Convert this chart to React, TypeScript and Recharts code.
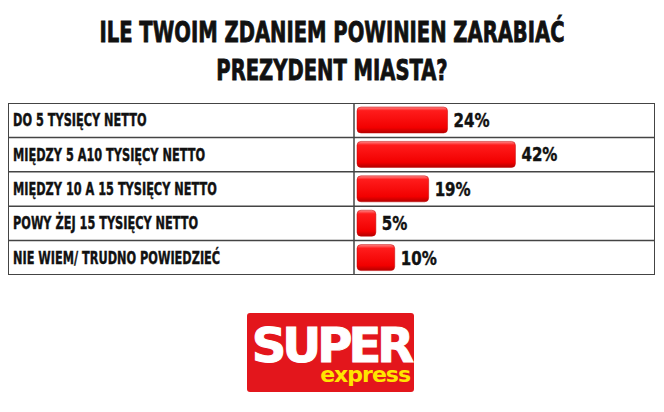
import { BarChart, Bar, XAxis, YAxis, LabelList } from 'recharts';

const categories = [
  'DO 5 TYSIĘCY NETTO',
  'MIĘDZY 5 A10 TYSIĘCY NETTO',
  'MIĘDZY 10 A 15 TYSIĘCY NETTO',
  'POWY ŻEJ 15 TYSIĘCY NETTO',
  'NIE WIEM/ TRUDNO POWIEDZIEĆ',
];
const shares = [24, 42, 19, 5, 10];
const titleLines = ['ILE TWOIM ZDANIEM POWINIEN ZARABIAĆ', 'PREZYDENT MIASTA?'];

const data = categories.map((name, i) => ({ name, value: shares[i] }));

const font = "'DejaVu Sans Condensed', 'DejaVu Sans', sans-serif";
const lineColor = '#444';
const chartW = 647;
const chartH = 172;
const rowH = chartH / categories.length;

function RowTick(props: any) {
  const { y, payload } = props;
  return (
    <g>
      <line x1={0} x2={chartW} y1={y + rowH / 2} y2={y + rowH / 2} stroke={lineColor} strokeWidth={1.5} />
      <text
        transform={`translate(5, ${y + 6}) scale(0.74, 1)`}
        fontFamily={font}
        fontWeight="bold"
        fontSize={17}
        fill="#111"
        stroke="#111"
        strokeWidth={0.4}
      >
        {payload.value}
      </text>
    </g>
  );
}

function PctLabel(props: any) {
  const { x, y, width, height, value } = props;
  return (
    <text
      transform={`translate(${x + width + 6}, ${y + height / 2 + 7}) scale(0.88, 1)`}
      fontFamily={font}
      fontWeight="bold"
      fontSize={19}
      fill="#111"
      stroke="#111"
      strokeWidth={0.4}
    >
      {`${value}%`}
    </text>
  );
}

export default function App() {
  return (
    <div style={{ position: 'absolute', left: 0, top: 0, width: 664, height: 412, background: '#fff' }}>
      <svg width={664} height={100} style={{ position: 'absolute', left: 0, top: 0 }}>
        {titleLines.map((t, i) => (
          <text
            key={t}
            transform={`translate(332, ${42 + i * 38}) scale(0.75, 1)`}
            textAnchor="middle"
            fontFamily={font}
            fontWeight="bold"
            fontSize={29}
            fill="#111"
            stroke="#111"
            strokeWidth={0.8}
          >
            {t}
          </text>
        ))}
      </svg>

      <div style={{ position: 'absolute', left: 8, top: 103 }}>
        <BarChart width={chartW} height={chartH} data={data} layout="vertical" margin={{ top: 0, right: 0, bottom: 0, left: 0 }}>
          <defs>
            <linearGradient id="barRed" x1="0" y1="0" x2="0" y2="1">
              <stop offset="0%" stopColor="#ff8a8a" />
              <stop offset="14%" stopColor="#ff1c1c" />
              <stop offset="80%" stopColor="#f20000" />
              <stop offset="100%" stopColor="#b50000" />
            </linearGradient>
          </defs>
          <XAxis type="number" domain={[0, 79]} hide padding={{ left: 3, right: 0 }} />
          <YAxis
            type="category"
            dataKey="name"
            width={346}
            tick={<RowTick />}
            tickLine={false}
            axisLine={{ stroke: lineColor, strokeWidth: 1.5 }}
          />
          <Bar dataKey="value" barSize={26} radius={4} fill="url(#barRed)" stroke="#c00000" strokeWidth={0.5} isAnimationActive={false}>
            <LabelList dataKey="value" content={<PctLabel />} />
          </Bar>
        </BarChart>
        <div
          style={{
            position: 'absolute',
            left: 0,
            top: 0,
            width: chartW,
            height: chartH,
            boxSizing: 'border-box',
            border: `1.5px solid ${lineColor}`,
            pointerEvents: 'none',
          }}
        />
      </div>

      <svg width={664} height={412} style={{ position: 'absolute', left: 0, top: 0, pointerEvents: 'none' }}>
        <rect x={247} y={313} width={167} height={79} rx={3} fill="#e3161c" />
        <text x={331} y={362} textAnchor="middle" fontFamily="'DejaVu Sans', sans-serif" fontWeight="bold" fontSize={48} letterSpacing={-4} fill="#fff" stroke="#fff" strokeWidth={1}>
          SUPER
        </text>
        <text x={410} y={382} textAnchor="end" fontFamily="'DejaVu Sans', sans-serif" fontWeight="bold" fontSize={22} letterSpacing={-1} fill="#ffe500">
          express
        </text>
      </svg>
    </div>
  );
}
